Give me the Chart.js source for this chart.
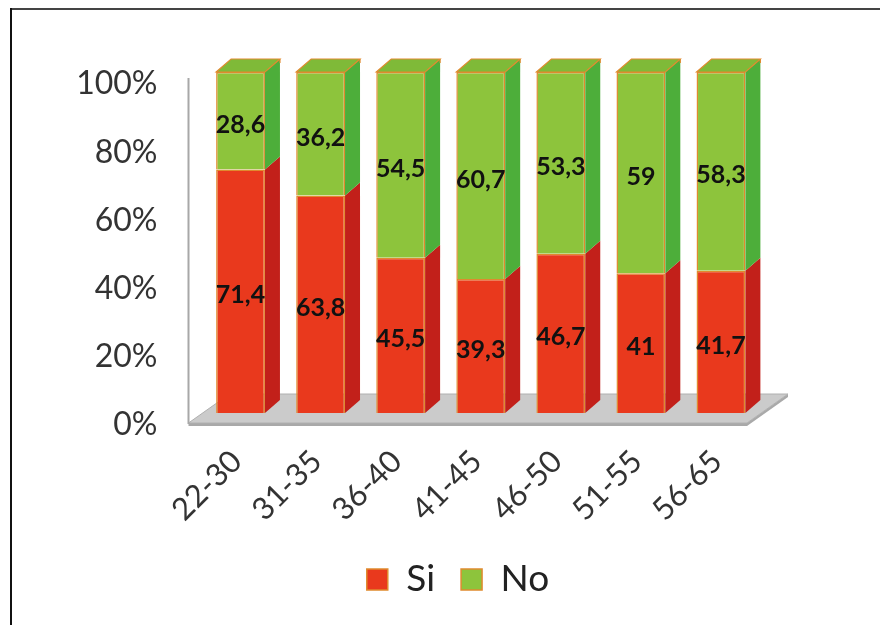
<!DOCTYPE html>
<html>
<head>
<meta charset="utf-8">
<script src="https://cdn.jsdelivr.net/npm/chart.js@4/dist/chart.umd.min.js"></script>
<style>
  html, body { margin: 0; padding: 0; background: #ffffff; }
  #wrap { width: 880px; height: 625px; position: relative; }
</style>
</head>
<body>
<div id="wrap"><canvas id="chart" width="880" height="625"></canvas></div>
<script>
// Age groups and the share of answers per group (percent)
const categories = ['22-30', '31-35', '36-40', '41-45', '46-50', '51-55', '56-65'];
const siValues = [71.4, 63.8, 45.5, 39.3, 46.7, 41, 41.7];
const noValues = [28.6, 36.2, 54.5, 60.7, 53.3, 59, 58.3];
const seriesNames = ['Si', 'No'];
const yTickValues = [0, 20, 40, 60, 80, 100];

// Face colours for the pseudo-3D columns
const FRONT = ['#E9391D', '#8DC43C'];
const SIDE = ['#C2201A', '#4DAE3A'];
const TOP = '#7FBA38';
const EDGE = '#E08A2E';
const DEPTH_X = 15;
const DEPTH_Y = 13;

function fmt(v) { return String(v).replace('.', ','); }

// Outer frame, floor and wall edge behind the columns
const backdrop = {
  id: 'backdrop',
  beforeDraw(chart) {
    const ctx = chart.ctx;
    ctx.save();
    ctx.fillStyle = '#ffffff';
    ctx.fillRect(0, 0, chart.width, chart.height);
    ctx.strokeStyle = '#444444';
    ctx.lineWidth = 2;
    ctx.beginPath();
    ctx.moveTo(10, 9); ctx.lineTo(chart.width, 9);
    ctx.stroke();
    ctx.strokeStyle = '#111111';
    ctx.beginPath();
    ctx.moveTo(11, 8); ctx.lineTo(11, chart.height);
    ctx.stroke();
    ctx.restore();
  },
  beforeDatasetsDraw(chart) {
    const ctx = chart.ctx;
    const area = chart.chartArea;
    const ys = chart.scales.y;
    const y0 = ys.getPixelForValue(0);
    const yTop = ys.getPixelForValue(100);
    const fl = area.left - 12, fr = area.right - 14;
    const fy = y0 + 10, by = y0 - 19, bx = 41;
    ctx.save();
    // floor slab thickness
    ctx.fillStyle = '#A9A9A9';
    ctx.beginPath();
    ctx.moveTo(fl, fy); ctx.lineTo(fr, fy); ctx.lineTo(fr + bx, by);
    ctx.lineTo(fr + bx, by + 3); ctx.lineTo(fr, fy + 3); ctx.lineTo(fl, fy + 3);
    ctx.closePath(); ctx.fill();
    // floor top
    ctx.fillStyle = '#CBCBCB';
    ctx.strokeStyle = '#B0B0B0';
    ctx.lineWidth = 1;
    ctx.beginPath();
    ctx.moveTo(fl, fy); ctx.lineTo(fr, fy); ctx.lineTo(fr + bx, by); ctx.lineTo(fl + bx, by);
    ctx.closePath(); ctx.fill(); ctx.stroke();
    // wall edge
    ctx.strokeStyle = '#A8A8A8';
    ctx.lineWidth = 2;
    ctx.beginPath();
    ctx.moveTo(fl, yTop + 6); ctx.lineTo(fl, fy + 1);
    ctx.stroke();
    ctx.restore();
  }
};

// Side and top faces of each column, then the value labels
const columns3d = {
  id: 'columns3d',
  afterDatasetsDraw(chart) {
    const ctx = chart.ctx;
    ctx.save();
    const metas = chart.data.datasets.map((d, i) => chart.getDatasetMeta(i));
    metas.forEach((meta, di) => {
      meta.data.forEach((el) => {
        const p = el.getProps(['x', 'y', 'base', 'width'], true);
        const right = p.x + p.width / 2;
        const top = Math.min(p.y, p.base), bottom = Math.max(p.y, p.base);
        ctx.fillStyle = SIDE[di];
        ctx.beginPath();
        ctx.moveTo(right, bottom);
        ctx.lineTo(right + DEPTH_X, bottom - DEPTH_Y);
        ctx.lineTo(right + DEPTH_X, top - DEPTH_Y);
        ctx.lineTo(right, top);
        ctx.closePath();
        ctx.fill();
      });
    });
    const last = metas[metas.length - 1];
    last.data.forEach((el) => {
      const p = el.getProps(['x', 'y', 'base', 'width'], true);
      const left = p.x - p.width / 2, right = p.x + p.width / 2;
      const top = Math.min(p.y, p.base);
      ctx.fillStyle = TOP;
      ctx.strokeStyle = EDGE;
      ctx.lineWidth = 1.2;
      ctx.beginPath();
      ctx.moveTo(left, top);
      ctx.lineTo(left + DEPTH_X, top - DEPTH_Y);
      ctx.lineTo(right + DEPTH_X, top - DEPTH_Y);
      ctx.lineTo(right, top);
      ctx.closePath();
      ctx.fill();
      ctx.stroke();
      ctx.beginPath();
      ctx.moveTo(right + DEPTH_X, top - DEPTH_Y);
      ctx.lineTo(right + DEPTH_X, top - DEPTH_Y + 4);
      ctx.stroke();
    });
    // value labels
    ctx.font = 'bold 25px Lato';
    ctx.fillStyle = '#111111';
    ctx.textAlign = 'center';
    ctx.textBaseline = 'middle';
    metas.forEach((meta, di) => {
      const values = chart.data.datasets[di].data;
      meta.data.forEach((el, i) => {
        const p = el.getProps(['x', 'y', 'base'], true);
        ctx.fillText(fmt(values[i]), p.x, (p.y + p.base) / 2 + 4);
      });
    });
    ctx.restore();
  }
};

new Chart(document.getElementById('chart'), {
  type: 'bar',
  data: {
    labels: categories,
    datasets: [
      { label: seriesNames[0], data: siValues, backgroundColor: FRONT[0], borderColor: EDGE, borderWidth: 1.5 },
      { label: seriesNames[1], data: noValues, backgroundColor: FRONT[1], borderColor: EDGE, borderWidth: 1.5 }
    ]
  },
  options: {
    responsive: false,
    animation: false,
    events: [],
    layout: { padding: { top: 72, right: 0, bottom: 17, left: 36 } },
    datasets: { bar: { categoryPercentage: 1, barPercentage: 0.61 } },
    plugins: {
      tooltip: { enabled: false },
      legend: {
        position: 'bottom',
        labels: {
          boxWidth: 21, boxHeight: 21, padding: 26,
          color: '#222222',
          font: { family: 'Lato', size: 37 }
        }
      }
    },
    scales: {
      x: {
        stacked: true,
        grid: { display: false, drawTicks: false },
        border: { display: false },
        ticks: {
          minRotation: 45, maxRotation: 45, padding: 30, labelOffset: -4,
          color: '#333333',
          font: { family: 'Lato', size: 31 }
        },
        afterFit(scale) { scale.height = 122; }
      },
      y: {
        stacked: true,
        min: 0, max: 100,
        afterBuildTicks(scale) { scale.ticks = yTickValues.map(v => ({ value: v })); },
        grid: { display: false, drawTicks: false },
        border: { display: false },
        ticks: {
          padding: 43, labelOffset: 12,
          color: '#333333',
          font: { family: 'Lato', size: 32 },
          callback: (v) => v + '%'
        },
        afterFit(scale) { scale.width = 164.5; }
      },
      // empty right-hand axis that only reserves room beside the plot
      yRight: {
        position: 'right',
        min: 0, max: 100,
        grid: { display: false, drawTicks: false },
        border: { display: false },
        ticks: { display: false },
        afterFit(scale) { scale.width = 119; }
      }
    }
  },
  plugins: [backdrop, columns3d]
});
</script>
</body>
</html>
